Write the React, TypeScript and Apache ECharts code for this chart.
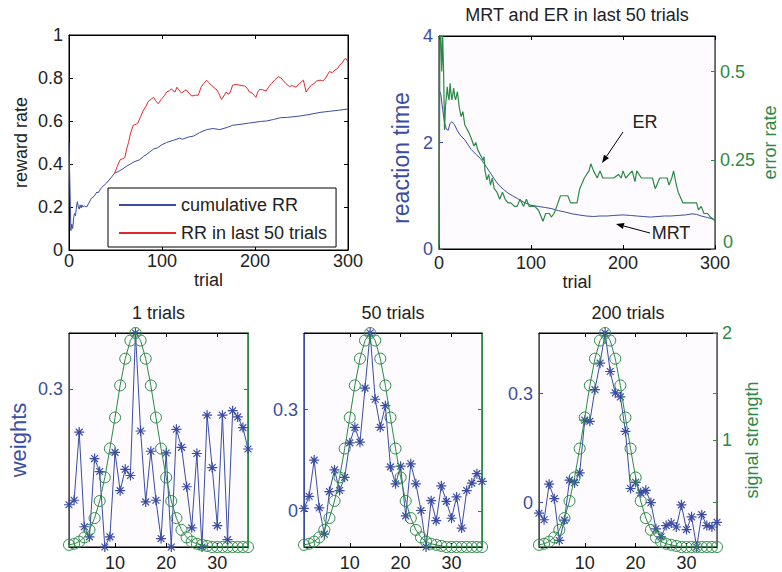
import React, { useEffect, useRef } from 'react';
import * as echarts from 'echarts';

// ---------- data ----------
const trialTicks = [0, 100, 200, 300];

const cumulativeRR: [number, number][] = [
  [0, 0.5], [1, 0.3], [2, 0.09], [3, 0.12], [4, 0.1], [5, 0.15], [6, 0.17], [7, 0.16], [8, 0.2], [9, 0.225],
  [10, 0.2], [11, 0.19], [12, 0.21], [13, 0.195], [14, 0.21], [15, 0.2], [17, 0.205], [19, 0.2], [21, 0.215],
  [24, 0.24], [27, 0.25], [30, 0.27], [31, 0.265], [35, 0.29], [40, 0.31], [45, 0.335], [49, 0.357], [53, 0.365],
  [57, 0.375], [62, 0.39], [66, 0.4], [70, 0.41], [76, 0.42], [80, 0.435], [85, 0.45], [91, 0.47], [95, 0.475],
  [100, 0.49], [105, 0.5], [112, 0.51], [119, 0.52], [122, 0.515], [128, 0.525], [134, 0.53], [140, 0.545],
  [148, 0.56], [155, 0.565], [162, 0.56], [170, 0.57], [176, 0.58], [185, 0.585], [193, 0.59], [200, 0.594],
  [206, 0.598], [212, 0.6], [220, 0.607], [227, 0.615], [235, 0.617], [248, 0.623], [258, 0.63], [270, 0.64],
  [280, 0.645], [290, 0.65], [300, 0.656],
];

const rrLast50: [number, number][] = [
  [49, 0.357], [52, 0.39], [55, 0.42], [58, 0.425], [60, 0.43], [62, 0.47], [64, 0.5], [66, 0.54], [69, 0.58],
  [72, 0.585], [74, 0.59], [77, 0.62], [80, 0.65], [83, 0.67], [85, 0.69], [88, 0.7], [91, 0.71], [93, 0.695],
  [96, 0.68], [99, 0.7], [101, 0.71], [103, 0.72], [105, 0.735], [108, 0.74], [110, 0.75], [112, 0.74],
  [114, 0.735], [116, 0.757], [118, 0.745], [121, 0.73], [124, 0.74], [126, 0.745], [129, 0.73], [132, 0.716],
  [136, 0.72], [139, 0.72], [142, 0.757], [145, 0.775], [148, 0.79], [150, 0.78], [153, 0.767], [156, 0.755],
  [159, 0.745], [162, 0.72], [164, 0.7], [167, 0.72], [169, 0.735], [171, 0.725], [173, 0.73], [176, 0.767],
  [180, 0.77], [185, 0.765], [189, 0.763], [192, 0.75], [194, 0.735], [197, 0.73], [199, 0.72], [201, 0.71],
  [203, 0.735], [205, 0.747], [208, 0.745], [212, 0.74], [215, 0.76], [218, 0.775], [221, 0.79], [225, 0.806],
  [228, 0.8], [230, 0.79], [233, 0.775], [237, 0.76], [240, 0.765], [244, 0.757], [248, 0.775], [252, 0.79],
  [255, 0.735], [258, 0.755], [261, 0.767], [264, 0.775], [266, 0.786], [270, 0.79], [273, 0.786], [276, 0.8],
  [280, 0.83], [283, 0.825], [286, 0.837], [289, 0.845], [291, 0.86], [294, 0.87], [296, 0.887], [298, 0.89],
  [300, 0.876],
];

const meanRT: [number, number][] = [
  [0, 3.0], [2, 2.9], [4, 2.62], [6, 2.37], [8, 2.25], [10, 2.23], [12, 2.36], [14, 2.39], [17, 2.33], [20, 2.22],
  [23, 2.14], [28, 2.05], [35, 1.87], [40, 1.78], [45, 1.7], [50, 1.58], [55, 1.45], [60, 1.32], [65, 1.2],
  [70, 1.12], [75, 1.05], [80, 1.0], [85, 0.95], [92, 0.88], [100, 0.82], [108, 0.8], [115, 0.78], [122, 0.76],
  [130, 0.72], [138, 0.69], [145, 0.66], [152, 0.64], [160, 0.62], [168, 0.61], [175, 0.62], [183, 0.62],
  [190, 0.63], [200, 0.64], [208, 0.63], [215, 0.62], [222, 0.61], [230, 0.6], [238, 0.61], [245, 0.62],
  [252, 0.62], [260, 0.63], [268, 0.64], [275, 0.66], [280, 0.65], [285, 0.62], [292, 0.59], [300, 0.55],
];

const errorRate: [number, number][] = [
  [0, 0], [1, 0.6], [2, 0.6], [3, 0.5], [4, 0.6], [5, 0.5], [6, 0.335], [7, 0.4], [9, 0.457], [10, 0.43],
  [11, 0.42], [12, 0.467], [13, 0.44], [14, 0.42], [16, 0.453], [17, 0.43], [18, 0.42], [20, 0.443], [22, 0.4],
  [24, 0.373], [26, 0.387], [28, 0.35], [30, 0.34], [32, 0.33], [35, 0.312], [38, 0.29], [40, 0.3], [42, 0.28],
  [45, 0.265], [48, 0.25], [49, 0.26], [50, 0.22], [52, 0.195], [54, 0.21], [56, 0.18], [58, 0.2], [60, 0.17],
  [63, 0.16], [66, 0.14], [69, 0.16], [72, 0.14], [75, 0.13], [78, 0.13], [82, 0.12], [85, 0.12], [88, 0.14],
  [92, 0.12], [95, 0.14], [98, 0.12], [104, 0.12], [108, 0.11], [113, 0.078], [116, 0.1], [120, 0.1],
  [122, 0.09], [125, 0.1], [128, 0.12], [132, 0.15], [140, 0.15], [143, 0.13], [150, 0.13], [153, 0.17],
  [158, 0.2], [163, 0.22], [165, 0.24], [168, 0.22], [172, 0.2], [175, 0.22], [178, 0.2], [190, 0.2],
  [195, 0.21], [198, 0.2], [200, 0.22], [203, 0.2], [210, 0.22], [213, 0.19], [215, 0.22], [220, 0.2],
  [232, 0.2], [235, 0.17], [240, 0.2], [248, 0.2], [250, 0.18], [253, 0.2], [255, 0.22], [258, 0.18],
  [260, 0.16], [265, 0.13], [280, 0.13], [282, 0.11], [285, 0.12], [288, 0.1], [292, 0.1], [295, 0.09],
  [300, 0.08],
];
const errorRateTicks = [0, 0.25, 0.5];

const unitIndex = [
  1, 2, 3, 4, 5, 6, 7, 8, 9, 10, 11, 12, 13, 14, 15, 16, 17, 18,
  19, 20, 21, 22, 23, 24, 25, 26, 27, 28, 29, 30, 31, 32, 33, 34, 35, 36,
];
const unitTicks = [10, 20, 30];

const signalStrength = [
  0.02, 0.03, 0.05, 0.09, 0.16, 0.27, 0.43, 0.65, 0.92, 1.21, 1.51, 1.76, 1.93, 2.0, 1.93, 1.76, 1.51, 1.21,
  0.92, 0.65, 0.43, 0.27, 0.16, 0.09, 0.05, 0.03, 0.02, 0.01, 0, 0, 0, 0, 0, 0, 0, 0,
];

const weights1 = [
  0.095, 0.103, 0.224, 0.056, 0.038, 0.177, 0.154, 0.02, 0.038, 0.188, 0.12, 0.158, 0.147, 0.4, 0.226, 0.1,
  0.19, 0.103, 0.035, 0.187, 0.02, 0.229, 0.197, 0.127, 0.054, 0.186, 0.02, 0.254, 0.161, 0.058, 0.254, 0.033,
  0.262, 0.251, 0.232, 0.194,
];
const weights50 = [
  0.008, 0.044, 0.151, 0.01, -0.068, 0.058, 0.122, 0.061, 0.1, 0.202, 0.248, 0.204, 0.364, 0.527, 0.331, 0.248,
  0.312, 0.131, 0.081, 0.133, -0.014, 0.14, 0.081, 0.002, -0.106, 0.031, -0.028, 0.075, 0.029, -0.021, 0.042,
  -0.05, 0.061, 0.083, 0.111, 0.088,
];
const weights200 = [
  -0.029, -0.047, 0.051, 0.011, -0.104, -0.048, 0.062, 0.055, 0.082, 0.227, 0.224, 0.311, 0.384, 0.467, 0.361,
  0.302, 0.291, 0.196, 0.039, 0.056, 0.027, 0.034, 0.0, -0.072, -0.094, -0.063, -0.056, -0.067, -0.006, -0.074,
  -0.039, -0.122, -0.033, -0.063, -0.067, -0.054,
];

const panelTitles = ['1 trials', '50 trials', '200 trials'];
const panelWeights = [weights1, weights50, weights200];
const weightLimits: [number, number][] = [[0.02, 0.4], [-0.106, 0.527], [-0.122, 0.467]];
const weightTicks = [[0.3], [0, 0.3], [0, 0.3]];
const signalTicks = [1, 2];

// ---------- style ----------
const FONT = "'Liberation Sans', Arial, Helvetica, sans-serif";
const TXT = '#222222';
const BLUE = '#3b4ca3';
const GREEN = '#2b8a47';
const RED = '#e3282b';
const PLOT_BG = '#fdfbfe';
const STAR = 'path://M5,0L5,10M0,5L10,5M1.6,1.6L8.4,8.4M1.6,8.4L8.4,1.6';

const panelGrids = [
  { left: 69, top: 333, width: 179, height: 214 },
  { left: 304, top: 333, width: 178, height: 214 },
  { left: 539, top: 333, width: 178, height: 214 },
];

function buildOption() {
  const grid: any[] = [
    { left: 69, top: 35, width: 279, height: 215, show: true, borderColor: '#000', borderWidth: 1, backgroundColor: '#ffffff' },
    { left: 439, top: 36, width: 276, height: 213, show: true, borderColor: '#000', borderWidth: 1, backgroundColor: PLOT_BG },
    ...panelGrids.map((g) => ({ ...g, show: true, borderColor: '#000', borderWidth: 1, backgroundColor: PLOT_BG })),
  ];

  const tick = (color: string, extra: any = {}) => ({ show: true, inside: true, length: 4, lineStyle: { color, width: 1 }, ...extra });
  const line = (color: string) => ({ show: true, onZero: false, lineStyle: { color, width: 1 } });
  const label = (color: string, extra: any = {}) => ({ show: true, color, fontSize: 18, fontFamily: FONT, ...extra });
  const nameStyle = (color: string, size = 18) => ({ color, fontSize: size, fontFamily: FONT });

  const xAxis: any[] = [];
  const yAxis: any[] = [];

  // top-left frame
  xAxis.push({
    gridIndex: 0, type: 'value', position: 'bottom', min: 0, max: 300,
    interval: trialTicks[1] - trialTicks[0],
    axisLine: line('#000'), axisTick: tick('#000'), axisLabel: label(TXT, { margin: 4, lineHeight: 14 }),
    splitLine: { show: false }, name: 'trial', nameLocation: 'middle', nameGap: 16, nameTextStyle: nameStyle(TXT),
  });
  xAxis.push({
    gridIndex: 0, type: 'value', position: 'top', min: 0, max: 300, interval: 100,
    axisLine: line('#000'), axisTick: tick('#000'), axisLabel: { show: false }, splitLine: { show: false },
  });
  yAxis.push({
    gridIndex: 0, type: 'value', position: 'left', min: 0, max: 1, interval: 0.2,
    axisLine: line('#000'), axisTick: tick('#000'), axisLabel: label(TXT, { margin: 6 }),
    splitLine: { show: false }, name: 'reward rate', nameLocation: 'middle', nameGap: 39, nameTextStyle: nameStyle(TXT),
  });
  yAxis.push({
    gridIndex: 0, type: 'value', position: 'right', min: 0, max: 1, interval: 0.2,
    axisLine: line('#000'), axisTick: tick('#000'), axisLabel: { show: false }, splitLine: { show: false },
  });

  // top-right frame
  xAxis.push({
    gridIndex: 1, type: 'value', position: 'bottom', min: 0, max: 300, interval: 100,
    axisLine: line('#000'), axisTick: tick('#000'), axisLabel: label(TXT, { margin: 7, lineHeight: 14 }),
    splitLine: { show: false }, name: 'trial', nameLocation: 'middle', nameGap: 17, nameTextStyle: nameStyle(TXT),
  });
  xAxis.push({
    gridIndex: 1, type: 'value', position: 'top', min: 0, max: 300, interval: 100,
    axisLine: line('#000'), axisTick: tick('#000'), axisLabel: { show: false }, splitLine: { show: false },
  });
  yAxis.push({
    gridIndex: 1, type: 'value', position: 'left', min: 0, max: 4, interval: 2,
    axisLine: line(BLUE), axisTick: tick(BLUE), axisLabel: label(BLUE, { margin: 6 }),
    splitLine: { show: false },
  });
  yAxis.push({
    gridIndex: 1, type: 'value', position: 'right', min: 0, max: 0.6,
    axisLine: line(GREEN), axisTick: tick(GREEN, { customValues: errorRateTicks }),
    axisLabel: label(GREEN, { margin: 5, customValues: errorRateTicks.slice(1) }),
    splitLine: { show: false }, name: 'error rate', nameLocation: 'middle', nameGap: 46, nameTextStyle: nameStyle(GREEN),
  });

  // bottom panels
  const panelSeries: any[] = [];
  panelGrids.forEach((_, p) => {
    const gi = p + 2;
    const xb = xAxis.length;
    xAxis.push({
      gridIndex: gi, type: 'value', position: 'bottom', min: unitIndex[0], max: unitIndex[unitIndex.length - 1],
      axisLine: line('#000'),
      axisTick: tick('#000', { customValues: unitTicks }),
      axisLabel: label(TXT, { margin: 7, customValues: unitTicks }),
      splitLine: { show: false },
    });
    xAxis.push({
      gridIndex: gi, type: 'value', position: 'top', min: unitIndex[0], max: unitIndex[unitIndex.length - 1],
      axisLine: line('#000'), axisTick: tick('#000', { customValues: unitTicks }),
      axisLabel: { show: false }, splitLine: { show: false },
    });
    const yl = yAxis.length;
    yAxis.push({
      gridIndex: gi, type: 'value', position: 'left', min: weightLimits[p][0], max: weightLimits[p][1],
      axisLine: line(BLUE),
      axisTick: tick(BLUE, { customValues: weightTicks[p] }),
      axisLabel: label(BLUE, { margin: 6, customValues: weightTicks[p] }),
      splitLine: { show: false },
      ...(p === 0 ? { name: 'weights', nameLocation: 'middle', nameGap: 40, nameTextStyle: nameStyle(BLUE, 22) } : {}),
    });
    yAxis.push({
      gridIndex: gi, type: 'value', position: 'right', min: weightLimits[p][0], max: weightLimits[p][1],
      axisLine: line(GREEN),
      axisTick: tick(GREEN, { customValues: weightTicks[p] }),
      axisLabel: { show: false }, splitLine: { show: false },
    });
    const yr = yAxis.length;
    yAxis.push({
      gridIndex: gi, type: 'value', position: 'right', min: 0, max: 2,
      axisLine: line(GREEN),
      axisTick: p === 2 ? tick(GREEN, { customValues: signalTicks }) : { show: false },
      axisLabel: p === 2 ? label(GREEN, { margin: 5, customValues: signalTicks }) : { show: false },
      splitLine: { show: false },
      ...(p === 2 ? { name: 'signal strength', nameLocation: 'middle', nameGap: 26, nameTextStyle: nameStyle(GREEN) } : {}),
    });
    panelSeries.push({
      type: 'line', name: 'weights ' + panelTitles[p], xAxisIndex: xb, yAxisIndex: yl,
      data: unitIndex.map((u, i) => [u, panelWeights[p][i]]),
      symbol: STAR, symbolSize: 10, showAllSymbol: true,
      lineStyle: { color: BLUE, width: 1 },
      itemStyle: { color: 'rgba(0,0,0,0)', borderColor: BLUE, borderWidth: 1.2 },
      z: 3,
    });
    panelSeries.push({
      type: 'line', name: 'signal ' + panelTitles[p], xAxisIndex: xb, yAxisIndex: yr,
      data: unitIndex.map((u, i) => [u, signalStrength[i]]),
      symbol: 'circle', symbolSize: 11, showAllSymbol: true,
      lineStyle: { color: GREEN, width: 1 },
      itemStyle: { color: 'rgba(0,0,0,0)', borderColor: GREEN, borderWidth: 1 },
      z: 4,
    });
  });

  const series: any[] = [
    {
      type: 'line', name: 'cumulative RR', xAxisIndex: 0, yAxisIndex: 0, data: cumulativeRR,
      symbol: 'none', lineStyle: { color: BLUE, width: 1 }, itemStyle: { color: BLUE },
    },
    {
      type: 'line', name: 'RR in last 50 trials', xAxisIndex: 0, yAxisIndex: 0, data: rrLast50,
      symbol: 'none', lineStyle: { color: RED, width: 1 }, itemStyle: { color: RED },
    },
    {
      type: 'line', name: 'MRT', xAxisIndex: 2, yAxisIndex: 2, data: meanRT,
      symbol: 'none', lineStyle: { color: BLUE, width: 1 }, itemStyle: { color: BLUE },
    },
    {
      type: 'line', name: 'ER', xAxisIndex: 2, yAxisIndex: 3, data: errorRate,
      symbol: 'none', lineStyle: { color: GREEN, width: 1.2 }, itemStyle: { color: GREEN },
    },
    ...panelSeries,
  ];

  const textEl = (text: string, x: number, y: number, color = TXT, size = 18, rotation = 0, align = 'center') => ({
    type: 'text', x, y, z: 100, rotation,
    style: { text, fill: color, font: `${size}px ${FONT}`, align, verticalAlign: 'middle' },
  });

  const graphic: any[] = [
    textEl('MRT and ER in last 50 trials', 577, 15),
    ...panelTitles.map((t, i) => textEl(t, panelGrids[i].left + panelGrids[i].width / 2, 313)),
    textEl('reaction time', 401, 158, BLUE, 23, Math.PI / 2),
    textEl(String(errorRateTicks[0]), 723, 242, GREEN, 18, 0, 'left'),
    textEl('ER', 645, 122),
    textEl('MRT', 671, 233),
    { type: 'line', z: 100, shape: { x1: 623, y1: 132, x2: 606.5, y2: 156.4 }, style: { stroke: '#000', lineWidth: 1 } },
    { type: 'polygon', z: 100, shape: { points: [[602, 163], [609, 158.1], [604, 154.7]] }, style: { fill: '#000' } },
    { type: 'line', z: 100, shape: { x1: 650, y1: 233, x2: 623.7, y2: 226 }, style: { stroke: '#000', lineWidth: 1 } },
    { type: 'polygon', z: 100, shape: { points: [[616, 224], [624.5, 223.1], [622.9, 228.9]] }, style: { fill: '#000' } },
  ];

  return {
    animation: false,
    backgroundColor: '#ffffff',
    textStyle: { fontFamily: FONT },
    grid,
    xAxis,
    yAxis,
    legend: {
      data: ['cumulative RR', 'RR in last 50 trials'],
      orient: 'vertical', left: 108, top: 188,
      padding: [8, 9, 5, 10], itemGap: 10, itemWidth: 57, itemHeight: 14,
      backgroundColor: '#ffffff', borderColor: '#000', borderWidth: 1,
      itemStyle: { opacity: 0 },
      textStyle: { fontSize: 18, color: TXT, fontFamily: FONT },
      selectedMode: false,
    },
    series,
    graphic,
  };
}

export default function App() {
  const ref = useRef<HTMLDivElement>(null);
  useEffect(() => {
    if (!ref.current) return;
    const chart = echarts.init(ref.current, null, { renderer: 'svg' });
    chart.setOption(buildOption() as any);
    return () => chart.dispose();
  }, []);
  return (
    <div
      ref={ref}
      style={{ position: 'fixed', left: 0, top: 0, width: 782, height: 572, background: '#fff' }}
    />
  );
}
